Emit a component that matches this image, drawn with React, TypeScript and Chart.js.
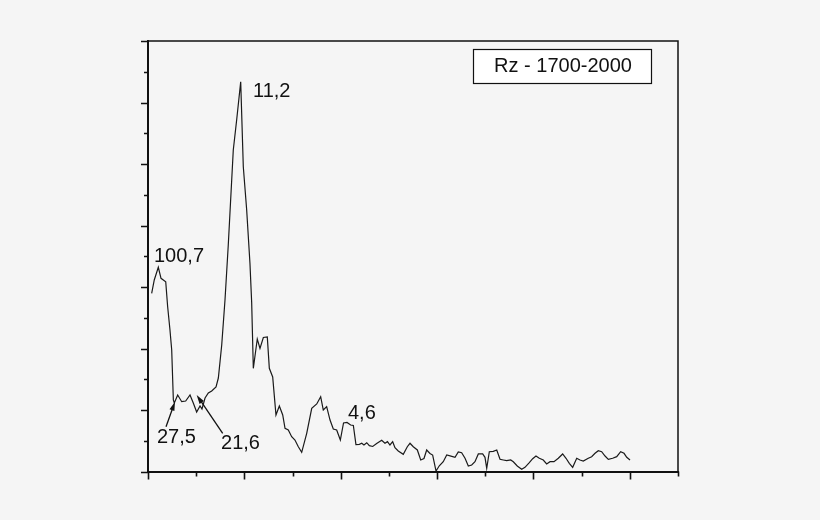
import { useEffect, useRef } from 'react';
import { Chart, registerables } from 'chart.js';

Chart.register(...registerables);

// spectrum, x in major-tick units, y in major-tick units
const freq = [
  0.038, 0.065, 0.107, 0.135, 0.159, 0.184, 0.204, 0.228, 0.246, 0.263,
  0.273, 0.308, 0.35, 0.391, 0.436, 0.47, 0.505, 0.54, 0.56, 0.592,
  0.626, 0.661, 0.706, 0.73, 0.765, 0.799, 0.833, 0.885, 0.92, 0.962,
  0.989, 1.024, 1.058, 1.076, 1.093, 1.134, 1.162, 1.197, 1.238, 1.259,
  1.294, 1.328, 1.363, 1.398, 1.422, 1.456, 1.491, 1.525, 1.56, 1.595,
  1.647, 1.699, 1.751, 1.792, 1.819, 1.854, 1.889, 1.923, 1.958, 1.996,
  2.029, 2.065, 2.103, 2.131, 2.158, 2.193, 2.218, 2.241, 2.27, 2.297,
  2.332, 2.373, 2.425, 2.459, 2.485, 2.511, 2.539, 2.563, 2.597, 2.649,
  2.691, 2.719, 2.753, 2.795, 2.83, 2.864, 2.892, 2.926, 2.954, 2.989,
  3.023, 3.064, 3.1, 3.162, 3.186, 3.22, 3.255, 3.29, 3.324, 3.359,
  3.393, 3.428, 3.473, 3.497, 3.515, 3.542, 3.583, 3.619, 3.653, 3.687,
  3.722, 3.764, 3.791, 3.832, 3.878, 3.912, 3.957, 3.992, 4.026, 4.061,
  4.102, 4.137, 4.172, 4.213, 4.258, 4.303, 4.338, 4.372, 4.407, 4.449,
  4.483, 4.517, 4.569, 4.604, 4.639, 4.673, 4.708, 4.743, 4.777, 4.822,
  4.864, 4.905, 4.94, 4.968, 5.002,
];

const power = [
  2.898, 3.114, 3.32, 3.141, 3.114, 3.086, 2.68, 2.301, 1.976, 1.163,
  1.114, 1.244, 1.135, 1.146, 1.244, 1.114, 0.967, 1.065, 1.016, 1.195,
  1.276, 1.309, 1.374, 1.52, 2.057, 2.789, 3.683, 5.228, 5.715, 6.338,
  4.956, 4.252, 3.385, 2.74, 1.678, 2.154, 2.003, 2.179, 2.187, 1.678,
  1.537, 0.919, 1.065, 0.919, 0.702, 0.675, 0.566, 0.512, 0.403, 0.312,
  0.621, 1.028, 1.098, 1.216, 1.0, 1.054, 0.837, 0.691, 0.675, 0.512,
  0.789, 0.797, 0.756, 0.748, 0.436, 0.442, 0.459, 0.431, 0.468, 0.42,
  0.407, 0.455, 0.507, 0.459, 0.485, 0.431, 0.485, 0.387, 0.333, 0.28,
  0.403, 0.459, 0.403, 0.35, 0.187, 0.211, 0.35, 0.293, 0.268, 0.008,
  0.093, 0.159, 0.268, 0.241, 0.231, 0.317, 0.306, 0.215, 0.089, 0.106,
  0.159, 0.285, 0.285, 0.231, 0.052, 0.322, 0.328, 0.35, 0.198, 0.187,
  0.176, 0.187, 0.159, 0.089, 0.036, 0.068, 0.143, 0.208, 0.252, 0.215,
  0.187, 0.122, 0.159, 0.159, 0.215, 0.285, 0.215, 0.133, 0.068, 0.215,
  0.187, 0.171, 0.215, 0.241, 0.296, 0.338, 0.322, 0.252, 0.198, 0.215,
  0.241, 0.322, 0.296, 0.231, 0.187,
];

const peakText = ['11,2', '100,7', '27,5', '21,6', '4,6'];
const peakX = [1.09, 0.062, 0.093, 0.758, 2.075];
const peakY = [6.089, 3.407, 0.463, 0.366, 0.854];

// arrows: [tailX, tailY, tipX, tipY]
const arrows = [
  [0.187, 0.728, 0.28, 1.135],
  [0.775, 0.621, 0.505, 1.244],
];

const seriesName = 'Rz - 1700-2000';

const FONT = '20px "Liberation Sans", Arial, sans-serif';
const INK = '#111111';

const framePlugin = {
  id: 'frameAndNotes',
  afterDraw(chart: any) {
    const { ctx, chartArea: a, scales } = chart;
    const xs = scales.x;
    const ys = scales.y;
    ctx.save();
    ctx.strokeStyle = INK;
    ctx.fillStyle = INK;

    // top and right frame
    ctx.lineWidth = 1.5;
    ctx.beginPath();
    ctx.moveTo(a.left, a.top);
    ctx.lineTo(a.right, a.top);
    ctx.lineTo(a.right, a.bottom);
    ctx.stroke();

    // outward ticks, long on whole values
    ctx.lineWidth = 1.6;
    ctx.beginPath();
    xs.ticks.forEach((t: any) => {
      const px = Math.round(xs.getPixelForValue(t.value)) + 0.5;
      const len = Number.isInteger(t.value) ? 8 : 5;
      ctx.moveTo(px, a.bottom);
      ctx.lineTo(px, a.bottom + len);
    });
    ys.ticks.forEach((t: any) => {
      const py = Math.round(ys.getPixelForValue(t.value)) + 0.5;
      const len = Number.isInteger(t.value) ? 7 : 4;
      ctx.moveTo(a.left, py);
      ctx.lineTo(a.left - len, py);
    });
    ctx.stroke();

    // peak labels
    ctx.font = FONT;
    ctx.textBaseline = 'alphabetic';
    ctx.textAlign = 'left';
    peakText.forEach((txt, i) => {
      ctx.fillText(txt, xs.getPixelForValue(peakX[i]), ys.getPixelForValue(peakY[i]));
    });

    // arrows
    ctx.lineWidth = 1.3;
    arrows.forEach(([x0, y0, x1, y1]) => {
      const ax = xs.getPixelForValue(x0);
      const ay = ys.getPixelForValue(y0);
      const bx = xs.getPixelForValue(x1);
      const by = ys.getPixelForValue(y1);
      const ang = Math.atan2(by - ay, bx - ax);
      const hl = 9;
      const hw = 2.6;
      ctx.beginPath();
      ctx.moveTo(ax, ay);
      ctx.lineTo(bx - Math.cos(ang) * hl * 0.8, by - Math.sin(ang) * hl * 0.8);
      ctx.stroke();
      ctx.beginPath();
      ctx.moveTo(bx, by);
      ctx.lineTo(bx - Math.cos(ang) * hl - Math.sin(ang) * hw, by - Math.sin(ang) * hl + Math.cos(ang) * hw);
      ctx.lineTo(bx - Math.cos(ang) * hl + Math.sin(ang) * hw, by - Math.sin(ang) * hl - Math.cos(ang) * hw);
      ctx.closePath();
      ctx.fill();
    });

    // legend box
    const bw = 178;
    const bh = 34;
    const bx = a.right - 205;
    const by = a.top + 8;
    ctx.fillStyle = '#ffffff';
    ctx.fillRect(bx, by, bw, bh);
    ctx.lineWidth = 1.2;
    ctx.strokeStyle = INK;
    ctx.strokeRect(bx + 0.5, by + 0.5, bw, bh);
    ctx.fillStyle = INK;
    ctx.textAlign = 'center';
    ctx.fillText(seriesName, bx + bw / 2 + 1, by + 23);

    ctx.restore();
  },
};

const App = () => {
  const canvasRef = useRef<HTMLCanvasElement | null>(null);

  useEffect(() => {
    if (!canvasRef.current) return;

    const chart = new Chart(canvasRef.current, {
      type: 'scatter',
      data: {
        datasets: [
          {
            label: seriesName,
            data: freq.map((f, i) => ({ x: f, y: power[i] })),
            showLine: true,
            borderColor: '#1a1a1a',
            borderWidth: 1.2,
            pointRadius: 0,
            tension: 0,
          },
        ],
      },
      options: {
        animation: false,
        responsive: false,
        layout: {
          padding: { left: 140, right: 142, top: 41, bottom: 40.5 },
        },
        plugins: {
          legend: { display: false },
          tooltip: { enabled: false },
        },
        scales: {
          x: {
            type: 'linear',
            min: 0,
            max: 5.5,
            ticks: { display: false, stepSize: 0.5 },
            grid: { display: false },
            border: { display: true, color: INK, width: 2 },
          },
          y: {
            type: 'linear',
            min: 0,
            max: 7,
            ticks: { display: false, stepSize: 0.5 },
            grid: { display: false },
            border: { display: true, color: INK, width: 2 },
          },
        },
      },
      plugins: [framePlugin],
    });

    return () => {
      chart.destroy();
    };
  }, []);

  return (
    <div
      style={{
        position: 'fixed',
        left: 0,
        top: 0,
        width: 820,
        height: 520,
        background: '#f5f5f5',
      }}
    >
      <canvas ref={canvasRef} width={820} height={520} style={{ width: 820, height: 520 }} />
    </div>
  );
};

export default App;
